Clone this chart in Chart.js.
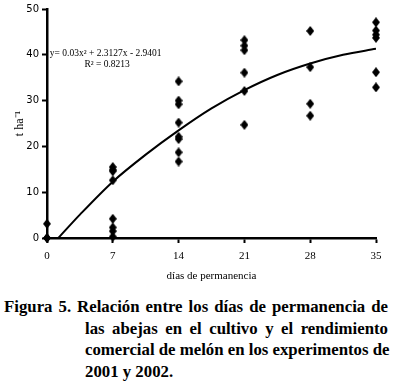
<!DOCTYPE html>
<html>
<head>
<meta charset="utf-8">
<script src="https://cdn.jsdelivr.net/npm/chart.js@4.4.0/dist/chart.umd.min.js"></script>
<style>
  body { margin: 0; background: #fff; width: 393px; height: 390px; overflow: hidden; position: relative; }
  #wrap { position: absolute; left: 0; top: 0; width: 393px; height: 290px; }
  #caption { position: absolute; left: 4px; top: 296px; width: 384px; font: bold 16.8px "Liberation Serif", serif; line-height: 21.5px; color: #000; }
  #caption div { text-align: justify; text-align-last: justify; white-space: nowrap; }
  #caption .ind { padding-left: 81px; }
  #caption .last { text-align-last: left; }
</style>
</head>
<body>
<div id="wrap"><canvas id="mainGraph" width="393" height="290"></canvas></div>
<div id="caption">
  <div>Figura 5. Relación entre los días de permanencia de</div>
  <div class="ind">las abejas en el cultivo y el rendimiento</div>
  <div class="ind">comercial de melón en los experimentos de</div>
  <div class="ind last">2001 y 2002.</div>
</div>
<script>
// observed yields (t/ha) grouped by days of bee presence
var days = [0, 7, 14, 21, 28, 35];
var yields0 = [0, 0, 3.1];
var yields7 = [15.5, 14.9, 14.6, 12.6, 4.2, 2.3, 1.5, 0.3];
var yields14 = [34.2, 30.0, 29.2, 25.2, 22.1, 21.6, 18.7, 16.7];
var yields21 = [43.2, 42.0, 41.0, 36.1, 32.1, 24.7];
var yields28 = [45.2, 37.3, 29.3, 26.7];
var yields35 = [47.1, 45.3, 44.4, 43.7, 36.2, 32.9];

// trend curve
var trendX = [1.2, 3.5, 7, 10.5, 14, 17.5, 21, 24.5, 28, 31.5, 35];
var trendY = [0, 5.1, 12.3, 18.2, 23.5, 28.3, 32.3, 35.6, 38.1, 40.0, 41.3];

var yTicks = [0, 10, 20, 30, 40, 50];
var eqText = "y= 0.03x\u00b2 + 2.3127x - 2.9401";
var r2Text = "R\u00b2 = 0.8213";

var groups = [yields0, yields7, yields14, yields21, yields28, yields35];
var points = [];
for (var i = 0; i < days.length; i++) {
    for (var j = 0; j < groups[i].length; j++) {
        points.push({x: days[i], y: groups[i][j]});
    }
}
var trend = [];
for (var k = 0; k < trendX.length; k++) {
    trend.push({x: trendX[k], y: trendY[k]});
}

// tall diamond marker
var diamond = document.createElement('canvas');
diamond.width = 8; diamond.height = 10;
var dctx = diamond.getContext('2d');
dctx.fillStyle = '#000';
dctx.beginPath();
dctx.moveTo(4, 0); dctx.lineTo(8, 5); dctx.lineTo(4, 10); dctx.lineTo(0, 5);
dctx.closePath(); dctx.fill();

var equationLabel = {
    id: 'equationLabel',
    afterDatasetsDraw: function (chart) {
        var c = chart.ctx;
        var xs = chart.scales.x, ys = chart.scales.y;
        c.save();
        c.fillStyle = '#000';
        c.font = '9.5px "Liberation Serif", serif';
        c.textBaseline = 'middle';
        c.textAlign = 'left';
        c.fillText(eqText, xs.getPixelForValue(0.3), ys.getPixelForValue(40.2));
        c.textAlign = 'center';
        c.fillText(r2Text, xs.getPixelForValue(6.4), ys.getPixelForValue(37.8));
        c.restore();
    }
};

var ctx = document.getElementById('mainGraph').getContext('2d');
var chart = new Chart(ctx, {
    type: 'scatter',
    data: {
        datasets: [
            {
                label: 'observado',
                data: points,
                pointStyle: diamond,
                pointRadius: 5,
                backgroundColor: '#000',
                borderColor: '#000',
                clip: false
            },
            {
                label: 'tendencia',
                type: 'line',
                data: trend,
                borderColor: '#000',
                borderWidth: 2,
                pointRadius: 0,
                cubicInterpolationMode: 'monotone',
                fill: false
            }
        ]
    },
    plugins: [equationLabel],
    options: {
        responsive: false,
        animation: false,
        events: [],
        layout: { padding: { left: 0, right: 17, top: 9, bottom: 0 } },
        plugins: { legend: { display: false }, tooltip: { enabled: false } },
        scales: {
            x: {
                type: 'linear',
                min: 0, max: 35,
                afterFit: function (s) { s.height = 52; },
                afterBuildTicks: function (s) { s.ticks = days.map(function (d) { return {value: d}; }); },
                grid: { drawOnChartArea: false, drawTicks: true, tickLength: 5, tickWidth: 2, tickColor: '#000' },
                border: { color: '#000', width: 2.5 },
                ticks: { color: '#000', padding: 7, font: { family: '"Liberation Serif", serif', size: 11 } },
                title: { display: true, text: 'días de permanencia', color: '#000', padding: { top: 0, bottom: 7 }, font: { family: '"Liberation Serif", serif', size: 11 } }
            },
            y: {
                min: 0, max: 50,
                afterFit: function (s) { s.width = 47; },
                afterBuildTicks: function (s) { s.ticks = yTicks.map(function (v) { return {value: v}; }); },
                grid: { drawOnChartArea: false, drawTicks: true, tickLength: 5, tickWidth: 2, tickColor: '#000' },
                border: { color: '#000', width: 2.5 },
                ticks: { color: '#000', padding: 3, font: { family: '"DejaVu Sans", sans-serif', size: 10 } },
                title: { display: true, text: 't ha\u207b\u00b9', color: '#000', padding: { top: 13, bottom: 0 }, font: { family: '"Liberation Serif", serif', size: 12 } }
            }
        }
    }
});
</script>
</body>
</html>
